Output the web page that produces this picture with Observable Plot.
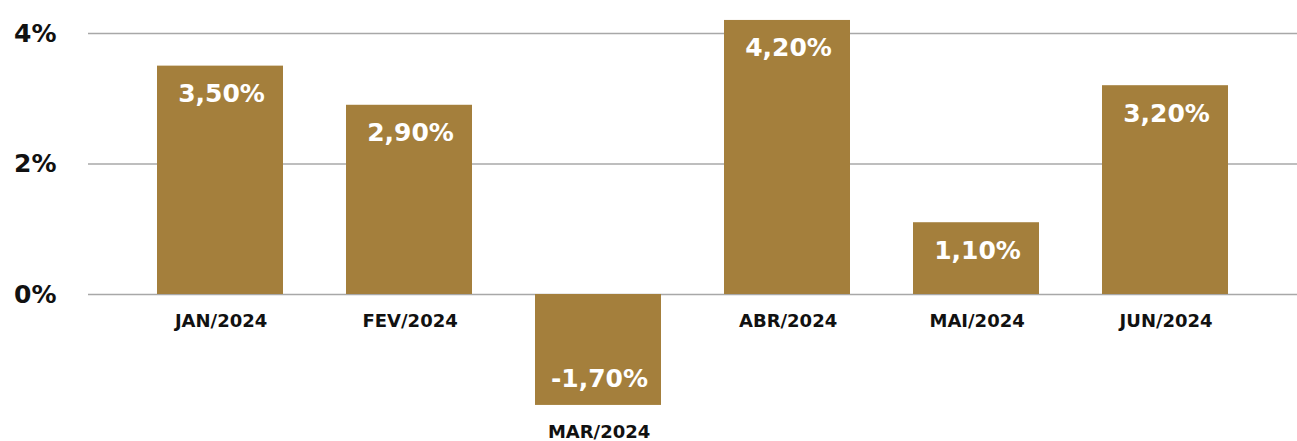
<!DOCTYPE html>
<html>
<head>
<meta charset="utf-8">
<script src="https://cdn.jsdelivr.net/npm/d3@7"></script>
<script src="https://cdn.jsdelivr.net/npm/@observablehq/plot@0.6"></script>
<style>
  html, body { margin: 0; padding: 0; background: #fff; }
  svg { display: block; }
  g[aria-label="value-labels"] text { letter-spacing: 2.2px; }
  g[aria-label="month-labels"] text { letter-spacing: 1.2px; }
</style>
</head>
<body>
<div id="chart"></div>
<script>
const months = ["JAN/2024", "FEV/2024", "MAR/2024", "ABR/2024", "MAI/2024", "JUN/2024"];
const values = [3.5, 2.9, -1.7, 4.2, 1.1, 3.2];
const valueLabels = ["3,50%", "2,90%", "-1,70%", "4,20%", "1,10%", "3,20%"];
const yTicks = [0, 2, 4];
const yTickLabels = ["0%", "2%", "4%"];

const data = months.map((m, i) => ({month: m, value: values[i], label: valueLabels[i]}));
const barColor = "#a47f3c";
const font = "'DejaVu Sans', sans-serif";

const chart = Plot.plot({
  width: 1297,
  height: 441,
  marginLeft: 88,
  marginRight: 0,
  marginTop: 0,
  marginBottom: 0,
  style: {fontFamily: font, background: "#fff"},
  x: {domain: months, range: [126, 1260], paddingInner: 0.333, paddingOuter: 0.1665, axis: null},
  y: {domain: [0, 4], range: [294, 33], axis: null},
  marks: [
    Plot.ruleY(yTicks, {stroke: "#a8a8a8", strokeWidth: 1.5}),
    Plot.barY(data, {x: "month", y: "value", fill: barColor}),
    Plot.axisY(yTicks, {
      label: null, tickSize: 0, tickPadding: 32, fontSize: 25, fontWeight: "bold", fill: "#111",
      tickFormat: (d) => yTickLabels[yTicks.indexOf(d)]
    }),
    Plot.text(data.filter(d => d.value >= 0), {
      ariaLabel: "value-labels",
      x: "month", y: "value", text: "label", dy: 28, dx: 1,
      fill: "#fff", fontSize: 25, fontWeight: "bold"
    }),
    Plot.text(data.filter(d => d.value < 0), {
      ariaLabel: "value-labels",
      x: "month", y: "value", text: "label", dy: -26, dx: 1,
      fill: "#fff", fontSize: 25, fontWeight: "bold"
    }),
    Plot.text(data, {
      ariaLabel: "month-labels",
      x: "month", y: d => Math.min(0, d.value), text: "month", dy: 27, dx: 0.6,
      fill: "#111", fontSize: 18, fontWeight: "bold"
    })
  ]
});
document.getElementById("chart").appendChild(chart);
</script>
</body>
</html>
